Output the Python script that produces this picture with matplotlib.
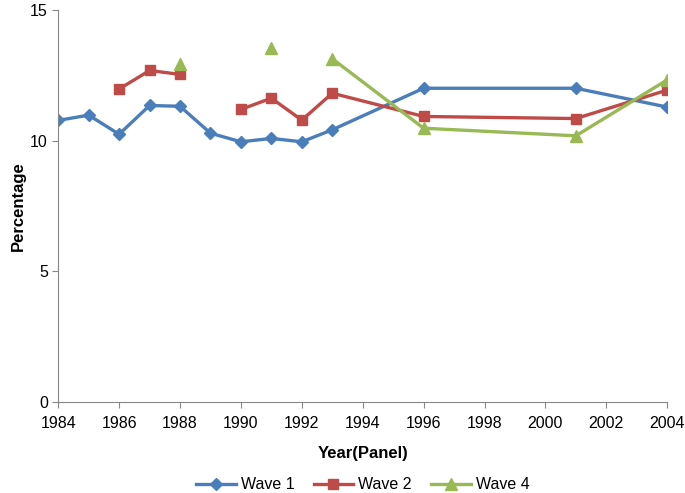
import matplotlib
matplotlib.use('agg')
import matplotlib.pyplot as plt
import numpy as np

plt.rcParams['font.family'] = ['Liberation Sans', 'DejaVu Sans']

# data
years_w1 = [1984, 1985, 1986, 1987, 1988, 1989, 1990, 1991, 1992, 1993, 1996, 2001, 2004]
wave1 = [10.77, 10.97, 10.24, 11.34, 11.31, 10.28, 9.95, 10.08, 9.95, 10.41, 12.0, 12.0, 11.28]

years_w2 = [1986, 1987, 1988, 1989, 1990, 1991, 1992, 1993, 1996, 2001, 2004]
wave2 = [11.97, 12.68, 12.53, np.nan, 11.19, 11.62, 10.78, 11.81, 10.92, 10.84, 11.93]

years_w4 = [1988, 1989, 1991, 1992, 1993, 1996, 2001, 2004]
wave4 = [12.91, np.nan, 13.54, np.nan, 13.13, 10.47, 10.18, 12.32]

xticks = list(range(1984, 2005, 2))
yticks = [0, 5, 10, 15]

fig = plt.figure(figsize=(6.85, 4.93), dpi=100)
ax = fig.add_axes([0.085, 0.185, 0.889, 0.795])

ax.plot(years_w1, wave1, color='#4A7EBB', lw=2.4, marker='D', ms=6.5, label='Wave 1')
ax.plot(years_w2, wave2, color='#BE4B48', lw=2.4, marker='s', ms=7.5, label='Wave 2')
ax.plot(years_w4, wave4, color='#98B954', lw=2.4, marker='^', ms=8, label='Wave 4')

ax.set_xlim(1984, 2004)
ax.set_ylim(0, 15)
ax.set_xticks(xticks)
ax.set_yticks(yticks)
ax.spines['top'].set_visible(False)
ax.spines['right'].set_visible(False)
for s in ['left', 'bottom']:
    ax.spines[s].set_color('#868686')
ax.tick_params(colors='#868686', labelcolor='black', labelsize=11.5, length=4)
ax.tick_params(axis='x', pad=6)
ax.set_xlabel('Year(Panel)', fontsize=12, fontweight='bold', labelpad=11)
ax.set_ylabel('Percentage', fontsize=12, fontweight='bold', labelpad=3)

ax.legend(loc='center', bbox_to_anchor=(0.5, -0.212), ncol=3, frameon=False,
          fontsize=11.5, handlelength=2.5, handletextpad=0.3, columnspacing=1.2)

plt.savefig('out.png', dpi=100)
